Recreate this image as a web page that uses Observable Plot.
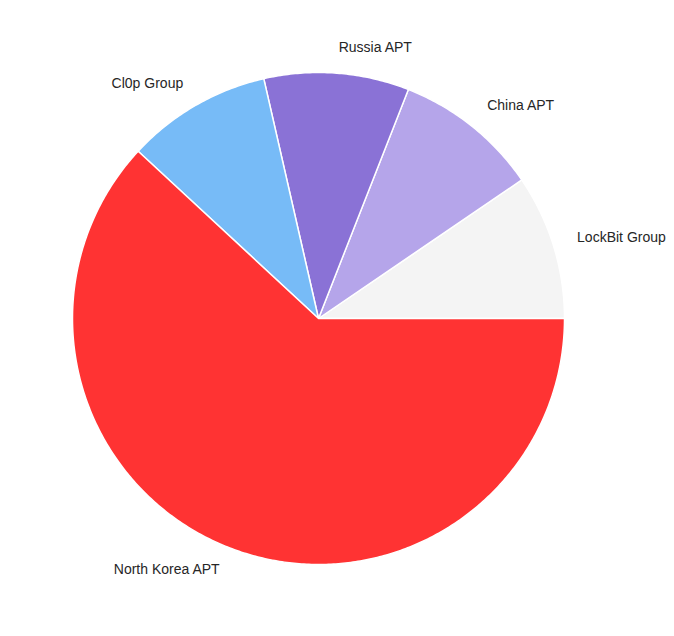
<!DOCTYPE html>
<html>
<head>
<meta charset="utf-8">
<script src="https://cdn.jsdelivr.net/npm/d3@7"></script>
<script src="https://cdn.jsdelivr.net/npm/@observablehq/plot@0.6"></script>
<style>
  body { margin: 0; background: #fff; }
</style>
</head>
<body>
<div id="chart"></div>
<script>
const groups = ["LockBit Group", "China APT", "Russia APT", "Cl0p Group", "North Korea APT"];
const values = [10, 10, 10, 10, 65];
const colors = ["#f4f4f4", "#b5a5ea", "#8a72d6", "#77bbf7", "#ff3333"];

const total = d3.sum(values);
let acc = 0;
const slices = groups.map((g, i) => {
  const a0 = acc / total * 2 * Math.PI;
  acc += values[i];
  const a1 = acc / total * 2 * Math.PI;
  return {group: g, a0, a1, mid: (a0 + a1) / 2};
});

// polygon vertices per slice (unit circle), counterclockwise from east
const pts = [];
for (const s of slices) {
  pts.push({group: s.group, x: 0, y: 0});
  const n = Math.max(2, Math.ceil((s.a1 - s.a0) / 0.01));
  for (let k = 0; k <= n; k++) {
    const a = s.a0 + (s.a1 - s.a0) * k / n;
    pts.push({group: s.group, x: Math.cos(a), y: Math.sin(a)});
  }
  pts.push({group: s.group, x: 0, y: 0});
}

const labels = slices.map(s => ({
  group: s.group,
  x: 1.1 * Math.cos(s.mid),
  y: 1.1 * Math.sin(s.mid),
  right: Math.cos(s.mid) >= 0
}));

const chart = Plot.plot({
  width: 674,
  height: 636,
  margin: 0,
  x: {domain: [-318 / 246, 356 / 246], axis: null},
  y: {domain: [-318 / 246, 318 / 246], axis: null},
  color: {domain: groups, range: colors},
  style: {fontFamily: "'Liberation Sans', Arial, sans-serif", background: "#fff"},
  marks: [
    Plot.line(pts, {x: "x", y: "y", z: "group", fill: "group", stroke: "white", strokeWidth: 1.5, curve: "linear"}),
    Plot.text(labels.filter(d => d.right), {x: "x", y: "y", dy: -1, text: "group", textAnchor: "start", fontSize: 14, fill: "#262626"}),
    Plot.text(labels.filter(d => !d.right), {x: "x", y: "y", dy: -1, text: "group", textAnchor: "end", fontSize: 14, fill: "#262626"})
  ]
});
document.getElementById("chart").appendChild(chart);
</script>
</body>
</html>
